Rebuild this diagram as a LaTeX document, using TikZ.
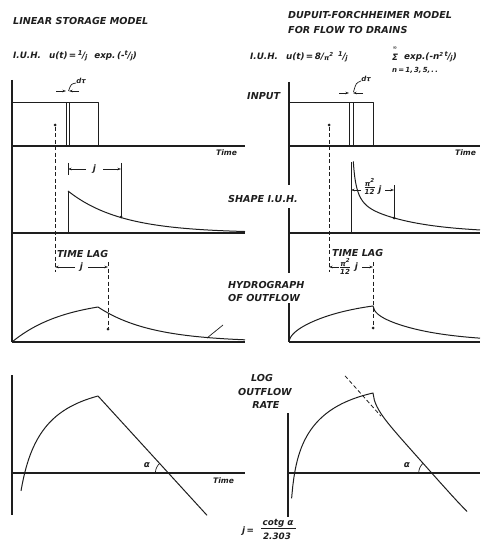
\documentclass[tikz,border=0pt]{standalone}
\usepackage{fontspec}
\newfontfamily\lf{DejaVu Sans}
\usetikzlibrary{arrows.meta}
\definecolor{ink}{RGB}{30,30,30}
\newcommand\fr[2]{\raisebox{2.8pt}{\fontsize{6.6}{6.6}\selectfont #1}\kern-0.3pt/\kern-0.3pt\raisebox{-1.4pt}{\fontsize{6.6}{6.6}\selectfont #2}}
\newcommand\sq{\raisebox{3.2pt}{\fontsize{5.5}{5.5}\selectfont 2}}
\tikzset{
  lab/.style={font=\lf\bfseries\itshape\fontsize{9.6}{10}\selectfont, text=ink, inner sep=0pt},
  frm/.style={font=\lf\bfseries\itshape\fontsize{8.8}{9}\selectfont, text=ink, inner sep=0pt},
  sml/.style={font=\lf\bfseries\itshape\fontsize{7}{7.5}\selectfont, text=ink, inner sep=0pt},
  tlab/.style={font=\lf\bfseries\itshape\fontsize{7.6}{8}\selectfont, text=ink, inner sep=0pt},
  axis/.style={draw=ink, line width=1.1pt},
  crv/.style={draw=ink, line width=1pt, line join=round},
  thn/.style={draw=ink, line width=0.7pt},
  dsh/.style={draw=ink, line width=0.8pt, dash pattern=on 4pt off 2.5pt},
  arr/.style={draw=ink, line width=0.7pt, -{Stealth[length=3.5pt,width=2.5pt]}},
  dotm/.style={fill=ink, circle, inner sep=0pt, minimum size=3pt},
}
\begin{document}
\begin{tikzpicture}[x=1pt,y=-1pt,
  declare function={
    S(\s)=exp(max(-9,-\s))+exp(max(-9,-9*\s))/9+exp(max(-9,-25*\s))/25+exp(max(-9,-49*\s))/49+exp(max(-9,-81*\s))/81+exp(max(-9,-121*\s))/121+exp(max(-9,-169*\s))/169+exp(max(-9,-225*\s))/225+exp(max(-9,-289*\s))/289+exp(max(-9,-361*\s))/361+exp(max(-9,-441*\s))/441;
    U(\s)=exp(max(-9,-\s))+exp(max(-9,-9*\s))+exp(max(-9,-25*\s))+exp(max(-9,-49*\s))+exp(max(-9,-81*\s))+exp(max(-9,-121*\s))+exp(max(-9,-169*\s))+exp(max(-9,-225*\s))+exp(max(-9,-289*\s))+exp(max(-9,-361*\s))+exp(max(-9,-441*\s));
    F(\t)=1-S(\t/53.5)/1.210988;
  }]
\useasboundingbox (0,0) rectangle (480,540);
\clip (0,0) rectangle (480,540);

% ---------- titles ----------
\node[lab, anchor=west] (tL) at (13,21) {LINEAR STORAGE MODEL};
\node[frm, anchor=west] (iuhL) at (13,56) {I.U.H.\hspace{8pt}u(t)\,=\,\fr{1}{j}\hspace{7pt}exp.\,(-\fr{t}{j})};
\node[lab, anchor=west] (tR1) at (288,15) {DUPUIT-FORCHHEIMER MODEL};
\node[lab, anchor=west] (tR2) at (288,30) {FOR FLOW TO DRAINS};
\node[frm, anchor=west] (iuhR) at (250,57) {I.U.H.\hspace{8pt}u(t)\,=\,8/\raisebox{-1.5pt}{\fontsize{6.6}{6.6}\selectfont π}\sq\hspace{5pt}\fr{1}{j}};
\node[frm] (sig) at (395,57) {Σ};
\node[sml] (inf) at (395,48.5) {\fontsize{5}{5}\selectfont ∞};
\node[frm, anchor=west] (expR) at (404,57) {exp.(-n\sq\,\fr{t}{j})};
\node[sml, anchor=west] (nR) at (392,70) {n\,=\,1,\,3,\,5,\,.\,.};

% ---------- middle labels ----------
\node[lab, anchor=west] (inp) at (247,96) {INPUT};
\node[lab, anchor=west] (shp) at (228,199) {SHAPE I.U.H.};
\node[lab, anchor=west] (hyd1) at (228,285) {HYDROGRAPH};
\node[lab, anchor=west] (hyd2) at (228,298) {OF OUTFLOW};
\node[lab] (log1) at (262,378) {LOG};
\node[lab] (log2) at (265,392) {OUTFLOW};
\node[lab] (log3) at (266,405) {RATE};
\node[tlab, anchor=west] (tm1) at (216,153) {Time};
\node[tlab, anchor=west] (tm2) at (455,153) {Time};
\node[tlab, anchor=west] (tm3) at (213,481) {Time};

% ---------- left: input ----------
\draw[axis] (12,80) -- (12,342);
\draw[axis] (12,146) -- (245,146);
\draw[axis] (12,233) -- (245,233);
\draw[axis] (12,342) -- (245,342);
\draw[crv] (12,103) -- (98,103) -- (98,146);
\draw[thn] (66,103) -- (66,146);
\draw[thn] (69,103) -- (69,146);
\draw[arr] (56,91) -- (66,91);
\draw[arr] (79,91) -- (69,91);
\node[sml] (dtL) at (81,81) {dτ};
\draw[thn] (76,83) .. controls (71,84) .. (68.5,91);
\node[dotm] (dL1) at (55,125) {};
\draw[dsh] (dL1) -- (55,272);

% ---------- left: shape IUH ----------
\draw[crv] (68,233) -- (68,191);
\draw[crv] plot[domain=0:177, samples=80] ({68+\x},{233-42*exp(-\x/53)});
\draw[thn] (68,163) -- (68,175);
\draw[thn] (121,163) -- (121,217);
\node[dotm] (dL2) at (121,217) {};
\draw[arr] (86,169) -- (68,169);
\draw[arr] (103,169) -- (121,169);
\node[frm] (jL1) at (94.5,169) {j};

% ---------- left: hydrograph ----------
\node[lab, anchor=west] (lagL) at (57,254) {TIME LAG};
\draw[arr] (75,267) -- (55,267);
\draw[arr] (88,267) -- (108,267);
\node[frm] (jL2) at (81.5,267) {j};
\node[dotm] (dL3) at (108,329) {};
\draw[dsh] (108,262) -- (dL3);
\draw[crv] plot[domain=0:86, samples=50] ({12+\x},{342-43.6*(1-exp(-\x/53))})
   -- plot[domain=0:147, samples=60] ({98+\x},{342-35*exp(-\x/53)});
\draw[thn] (207,338) -- (223,325);

% ---------- left: log ----------
\draw[axis] (12,375) -- (12,515);
\draw[axis] (12,473) -- (245,473);
\draw[crv] plot[domain=9:86, samples=60] ({12+\x},{396-58*ln((1-exp(-\x/53))/0.8026)}) -- (207,515.3);
\draw[thn] (155.4,473) arc[start angle=180, end angle=227.6, radius=13];
\node[frm] (aL) at (147,465) {α};

% ---------- right: input ----------
\draw[axis] (289,82) -- (289,185);
\draw[axis] (289,208) -- (289,273);
\draw[axis] (289,303) -- (289,342);
\draw[axis] (289,146) -- (480,146);
\draw[axis] (289,233) -- (480,233);
\draw[axis] (289,342) -- (480,342);
\draw[crv] (289,103) -- (373,103) -- (373,146);
\draw[thn] (349,103) -- (349,146);
\draw[thn] (353,103) -- (353,146);
\draw[arr] (339,93) -- (349,93);
\draw[arr] (363,93) -- (353,93);
\node[sml] (dtR) at (366,79) {dτ};
\draw[thn] (361,81) .. controls (356,83) .. (353.5,92);
\node[dotm] (dR1) at (329,125) {};
\draw[dsh] (dR1) -- (329,272);

% ---------- right: shape IUH ----------
\draw[crv] (351,233) -- (351,162);
\draw[crv] plot[domain=2.3:16, samples=60] ({351+\x},{233-33.5*U(\x/53.5)})
   -- plot[domain=16:129, samples=60] ({351+\x},{233-33.5*U(\x/53.5)});
\draw[arr] (361,190) -- (351,190);
\node[sml] (nR1) at (369.5,182.5) {π\sq};
\draw[thn] (364.5,187) -- (374.5,187);
\node[sml] (dR1b) at (369.5,192) {12};
\node[frm] (jR1) at (380,190) {j};
\draw[arr] (385,190) -- (394,190);
\draw[thn] (394,185) -- (394,218);
\node[dotm] (dR2) at (394,218) {};

% ---------- right: hydrograph ----------
\node[lab, anchor=west] (lagR) at (332,253) {TIME LAG};
\draw[arr] (339,267) -- (329,267);
\node[sml] (nR2) at (345,262.5) {π\sq};
\draw[thn] (340,267) -- (350,267);
\node[sml] (dR2b) at (345,272) {12};
\node[frm] (jR2) at (356.5,267) {j};
\draw[arr] (362,267) -- (373,267);
\node[dotm] (dR3) at (373,328) {};
\draw[dsh] (373,262) -- (dR3);
\draw[crv] plot[domain=0:10, samples=40] ({289+\x},{342-43.5*F(\x)})
   -- plot[domain=10:84, samples=50] ({289+\x},{342-43.5*F(\x)})
   -- plot[domain=84:191, samples=70] ({289+\x},{342-43.5*(F(\x)-F(\x-84))});

% ---------- right: log ----------
\draw[axis] (288,413) -- (288,517);
\draw[axis] (288,473) -- (480,473);
\draw[crv] plot[domain=2.6:84, samples=70] ({289+\x},{393-60*ln(F(\x)/0.8282)})
   -- plot[domain=84:178, samples=70] ({289+\x},{393-60*ln((F(\x)-F(\x-84))/0.8282)});
\draw[dsh] (345,375.8) -- (381,416.2);
\draw[thn] (418.7,473) arc[start angle=180, end angle=228.3, radius=13];
\node[frm] (aR) at (407,465) {α};

% ---------- bottom formula ----------
\node[frm, anchor=west] (jeq) at (242,531) {j\,=};
\node[frm] (num) at (278,523.5) {cotg α};
\draw[thn] (261,528.5) -- (296,528.5);
\node[frm] (den) at (277,536) {2.303};
\end{tikzpicture}
\end{document}
